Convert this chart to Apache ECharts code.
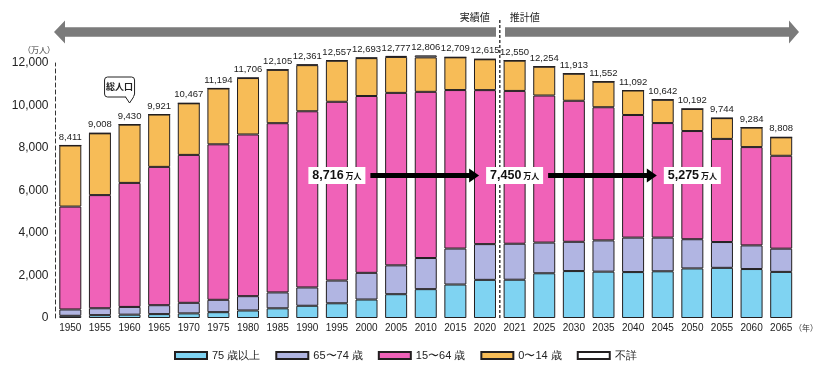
<!DOCTYPE html>
<html><head><meta charset="utf-8">
<script src="https://cdn.jsdelivr.net/npm/echarts/dist/echarts.min.js"></script>
<style>html,body{margin:0;padding:0;background:#fff}#c{width:825px;height:373px}</style>
</head><body><div id="c"></div>
<script>
const years = ['1950','1955','1960','1965','1970','1975','1980','1985','1990','1995','2000','2005','2010','2015','2020','2021','2025','2030','2035','2040','2045','2050','2055','2060','2065'];
const age75plus = [107,139,163,189,224,284,366,471,597,717,901,1160,1407,1632,1860,1867,2180,2288,2260,2239,2277,2417,2446,2387,2248];
const age65to74 = [309,336,377,435,516,603,699,776,892,1109,1301,1407,1517,1754,1742,1754,1497,1428,1522,1681,1643,1424,1258,1153,1133];
const age15to64 = [5017,5517,6047,6744,7212,7581,7883,8251,8590,8716,8622,8409,8103,7728,7509,7450,7170,6875,6494,5978,5584,5275,5028,4793,4529];
const age0to14 = [2979,3012,2843,2553,2515,2722,2751,2603,2249,2001,1847,1752,1680,1595,1503,1478,1407,1321,1246,1194,1138,1077,1012,951,898];
const ageUnknown = [0,4,0,0,0,4,7,4,33,14,22,49,99,0,1,1,0,1,0,0,0,0,0,0,0];
const totals = [8411,9008,9430,9921,10467,11194,11706,12105,12361,12557,12693,12777,12806,12709,12615,12550,12254,11913,11552,11092,10642,10192,9744,9284,8808];
const yTicks = [0,2000,4000,6000,8000,10000,12000];
const seriesNames = ['75 歳以上','65〜74 歳','15〜64 歳','0〜14 歳','不詳'];
const callouts = [{year:'1995', text:'8,716'},{year:'2021', text:'7,450'},{year:'2050', text:'5,275'}];

const colors = ['#7fd3f2','#b1b5e2','#f062b8','#f7bc57','#ffffff'];
const chart = echarts.init(document.getElementById('c'), null, {renderer:'canvas'});
const font = '"Liberation Sans", Arial, sans-serif';
const jp = '"Noto Sans CJK JP", sans-serif';
const dataSets = [age75plus, age65to74, age15to64, age0to14, ageUnknown];

const series = dataSets.map((d, i) => ({
  name: seriesNames[i], type: 'bar', stack: 'pop', xAxisIndex: 0, yAxisIndex: 0, barWidth: 22,
  data: d,
  itemStyle: {color: colors[i], borderColor: '#231f20', borderWidth: 1},
  emphasis: {disabled: true},
  label: i === 4 ? {
    show: true, position: 'top', distance: 3, fontSize: 9.5, color: '#222', fontFamily: font,
    formatter: p => totals[p.dataIndex].toLocaleString('en-US')
  } : {show: false}
}));

chart.setOption({
  animation: false,
  grid: [
    {left: 55.5, right: 29, top: 30, bottom: 55},
    {left: 55.5, right: 29, top: 63, bottom: 55}
  ],
  legend: {
    left: 169, top: 345, itemWidth: 32, itemHeight: 7, itemGap: 15,
    icon: 'rect',
    textStyle: {fontSize: 11, color: '#222', fontFamily: font},
    data: seriesNames
  },
  xAxis: [{
    gridIndex: 0, type: 'category', data: years,
    axisLine: {show: false}, axisTick: {show: false},
    axisLabel: {fontSize: 10, color: '#222', margin: 5, fontFamily: font, interval: 0}
  }, {
    gridIndex: 1, type: 'category', data: years, show: false
  }],
  yAxis: [{
    gridIndex: 0, type: 'value', min: 0, max: 14042, show: false, splitLine: {show: false}
  }, {
    gridIndex: 1, type: 'value', min: yTicks[0], max: yTicks[yTicks.length-1], interval: 2000,
    axisLine: {show: true, lineStyle: {color: '#333', type: [4,3], width: 1}},
    axisTick: {show: false}, splitLine: {show: false},
    axisLabel: {fontSize: 12, color: '#222', margin: 7, fontFamily: font,
      formatter: v => v.toLocaleString('en-US')}
  }],
  series: series
});

function px(year){ return chart.convertToPixel({xAxisIndex:0}, year); }
const g = [];
const grey = '#7b7b7b';
g.push({type:'polygon', shape:{points:[[54,32],[65,20.5],[65,27.3],[496,27.3],[496,36.7],[65,36.7],[65,43.5]]}, style:{fill:grey}});
g.push({type:'polygon', shape:{points:[[505,27.3],[789,27.3],[789,20.5],[799,32],[789,43.5],[789,36.7],[505,36.7]]}, style:{fill:grey}});
const divX = (px('2020') + px('2021')) / 2;
g.push({type:'line', shape:{x1:divX, y1:20, x2:divX, y2:318}, style:{stroke:'#333', lineWidth:1.4, lineDash:[3,2]}, z:40});
g.push({type:'text', x:divX-10, y:17, style:{text:'実績値', fontSize:10, fill:'#222', align:'right', verticalAlign:'middle', fontFamily:jp}});
g.push({type:'text', x:divX+10, y:17, style:{text:'推計値', fontSize:10, fill:'#222', align:'left', verticalAlign:'middle', fontFamily:jp}});
g.push({type:'text', x:39, y:50, style:{text:'（万人）', fontSize:8, fill:'#333', align:'center', verticalAlign:'middle', fontFamily:jp}});
g.push({type:'text', x:806, y:328, style:{text:'（年）', fontSize:8, fill:'#333', align:'center', verticalAlign:'middle', fontFamily:jp}});
const cx60 = px('1960');
g.push({type:'rect', shape:{x:cx60-25, y:77, width:30, height:20, r:3}, style:{fill:'#fff', stroke:'#222', lineWidth:1}, z:50});
g.push({type:'line', shape:{x1:cx60-3.5, y1:97, x2:cx60+3.5, y2:97}, style:{stroke:'#fff', lineWidth:2}, z:51});
g.push({type:'polyline', shape:{points:[[cx60-4,97],[cx60,103],[cx60+4,97]]}, style:{stroke:'#222', lineWidth:1, fill:null}, z:52});
g.push({type:'text', x:cx60-10, y:87, style:{text:'総人口', fontSize:9, fontWeight:'bold', fill:'#222', align:'center', verticalAlign:'middle', fontFamily:jp}, z:53});
const cy = 175.5;
const boxes = callouts.map(c => {
  const x = px(c.year); const w = 57;
  return {x0: x - w/2, x1: x + w/2, cx: x, text: c.text};
});
boxes.forEach(b => {
  g.push({type:'rect', shape:{x:b.x0, y:cy-8.5, width:b.x1-b.x0, height:17}, style:{fill:'#fff'}, z:60});
  g.push({type:'text', x:b.cx, y:cy+0.5, style:{
    text:'{a|' + b.text + '}{b| 万人}', align:'center', verticalAlign:'middle',
    rich:{a:{fontSize:12.5, fontWeight:'bold', fill:'#111', fontFamily:font},
          b:{fontSize:8, fontWeight:'bold', fill:'#111', fontFamily:jp}}
  }, z:61});
});
for (let i = 0; i < boxes.length - 1; i++) {
  const xa = boxes[i].x1 + 5, xb = boxes[i+1].x0 - 7;
  g.push({type:'line', shape:{x1:xa, y1:cy, x2:xb-9, y2:cy}, style:{stroke:'#000', lineWidth:5}, z:60});
  g.push({type:'polygon', shape:{points:[[xb-10,cy-7],[xb,cy],[xb-10,cy+7]]}, style:{fill:'#000'}, z:60});
}
chart.setOption({graphic: {elements: g}});
</script>
</body></html>
